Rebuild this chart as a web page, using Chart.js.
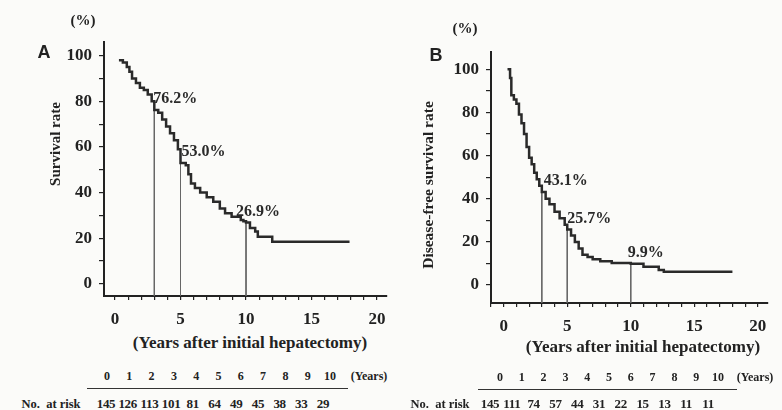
<!DOCTYPE html>
<html>
<head>
<meta charset="utf-8">
<script src="https://cdn.jsdelivr.net/npm/chart.js@4.4.0/dist/chart.umd.min.js"></script>
<style>
  body { margin: 0; background: #fbfbf9; }
  #wrap { position: relative; width: 782px; height: 410px; overflow: hidden;
          font-family: "Liberation Serif", "DejaVu Serif", serif; font-weight: bold; color: #222; }
  canvas { position: absolute; top: 0; }
  .t { position: absolute; white-space: nowrap; transform: translate(-50%, -50%); }
  .rot { transform: translate(-50%, -50%) rotate(-90deg); }
  .rule { position: absolute; height: 0; border-top: 1.5px solid #333; }
</style>
</head>
<body>
<div id="wrap">
  <canvas id="chartA" width="400" height="330" style="left:0"></canvas>
  <canvas id="chartB" width="382" height="340" style="left:400px"></canvas>

  <div class="t" style="left:83px;top:20px;font-size:15px">(%)</div>
  <div class="t" style="left:44px;top:52px;font:bold 18px 'Liberation Sans',sans-serif">A</div>
  <div class="t rot" style="left:55px;top:144px;font-size:15px">Survival rate</div>
  <div class="t" style="left:250px;top:343px;font-size:17px">(Years after initial hepatectomy)</div>

  <div class="t" style="left:465px;top:28px;font-size:15px">(%)</div>
  <div class="t" style="left:436px;top:55px;font:bold 18px 'Liberation Sans',sans-serif">B</div>
  <div class="t rot" style="left:428px;top:185px;font-size:15.5px">Disease-free survival rate</div>
  <div class="t" style="left:643px;top:347px;font-size:17px">(Years after initial hepatectomy)</div>

  <div id="riskA"></div>
  <div id="riskB"></div>
</div>

<script>
// Kaplan-Meier curves (years, percent)
const yearsA = [0.3, 0.6, 0.9, 1.1, 1.3, 1.6, 1.9, 2.2, 2.5, 2.8, 3.0, 3.3, 3.6, 3.9, 4.2, 4.5, 4.8, 5.0, 5.4, 5.6, 5.8, 6.1, 6.5, 7.0, 7.5, 8.0, 8.4, 8.9, 9.6, 9.8, 10.0, 10.3, 10.7, 10.9, 12.0, 17.9];
const survA  = [98, 97, 95, 93, 90, 88, 86, 85, 83, 80, 76.2, 75, 72, 69, 66, 63, 59, 53.0, 52, 48, 44, 42, 40, 38, 36, 33, 31, 29.4, 28, 27.5, 26.9, 24.5, 23, 20.7, 18.5, 18.5];

const yearsB = [0.3, 0.5, 0.6, 0.8, 1.0, 1.2, 1.4, 1.6, 1.8, 2.0, 2.2, 2.4, 2.6, 2.8, 3.0, 3.3, 3.6, 4.0, 4.4, 4.8, 5.0, 5.3, 5.6, 5.9, 6.2, 6.6, 7.0, 7.6, 8.5, 10.0, 11.0, 12.2, 12.6, 18.0];
const dfsB   = [100, 96, 88, 86, 84, 79, 75, 70, 64, 59, 56, 52, 49, 46, 43.1, 40, 37.5, 34, 31, 28, 25.7, 23, 20, 17, 14, 13, 12, 11, 10.2, 9.9, 8.5, 7, 6.2, 6.2];

// marked time points and their rates
const markYears = [3, 5, 10];
const markA = [76.2, 53.0, 26.9];
const markB = [43.1, 25.7, 9.9];

// axis tick labels
const xTickLabels = [0, 5, 10, 15, 20];
const yTickLabels = [0, 20, 40, 60, 80, 100];

// number at risk table
const riskYears = [0, 1, 2, 3, 4, 5, 6, 7, 8, 9, 10];
const riskA = [145, 126, 113, 101, 81, 64, 49, 45, 38, 33, 29];
const riskB = [145, 111, 74, 57, 44, 31, 22, 15, 13, 11, 11];

const ink = '#2a2a2a';
const tickFont = { family: '"Liberation Serif", "DejaVu Serif", serif', size: 17, weight: 'bold' };

// draws "76.2%" etc next to the marked points
const markLabels = {
  id: 'markLabels',
  afterDatasetsDraw(chart, args, opts) {
    const { ctx, scales: { x, y } } = chart;
    ctx.save();
    ctx.font = 'bold 16px "Liberation Serif", serif';
    ctx.fillStyle = ink;
    ctx.textBaseline = 'middle';
    opts.vals.forEach((v, i) => {
      ctx.fillText(v.toFixed(1) + '%', x.getPixelForValue(markYears[i]) + opts.dx[i], y.getPixelForValue(v) - 11);
    });
    ctx.restore();
  }
};

function makeChart(id, years, rates, marks, g) {
  const curve = years.map((yr, i) => ({ x: yr, y: rates[i] }));
  const drops = marks.map((v, i) => ({
    type: 'line',
    data: [{ x: markYears[i], y: v }, { x: markYears[i], y: g.yMin }],
    borderColor: '#666',
    borderWidth: 1,
    pointRadius: 0
  }));

  return new Chart(document.getElementById(id), {
    type: 'line',
    data: {
      datasets: [{
        data: curve,
        borderColor: ink,
        borderWidth: 2.5,
        stepped: true,
        pointRadius: 0
      }, ...drops]
    },
    options: {
      responsive: false,
      animation: false,
      layout: { padding: { top: g.top, right: g.right } },
      plugins: {
        legend: { display: false },
        tooltip: { enabled: false },
        markLabels: { vals: marks, dx: g.dx }
      },
      scales: {
        x: {
          type: 'linear',
          min: g.xMin, max: g.xMax,
          border: { color: '#222', width: 2 },
          grid: { drawOnChartArea: false, tickLength: 4, color: '#222', lineWidth: 1.2 },
          ticks: {
            stepSize: 1, includeBounds: false, autoSkip: false, maxRotation: 0,
            padding: 9, color: '#222', font: tickFont,
            callback: v => xTickLabels.includes(v) ? v : ''
          },
          afterFit: s => { s.height = g.xh; }
        },
        y: {
          min: g.yMin, max: g.yMax,
          border: { color: '#222', width: 2 },
          grid: { drawOnChartArea: false, tickLength: 5, color: '#222', lineWidth: 1.2 },
          ticks: {
            stepSize: 10, includeBounds: false, autoSkip: false,
            padding: 7, color: '#222', font: tickFont,
            callback: v => yTickLabels.includes(v) ? v : ''
          },
          afterFit: s => { s.width = g.yw; }
        }
      }
    },
    plugins: [markLabels]
  });
}

makeChart('chartA', yearsA, survA, markA,
  { xMin: -0.84, xMax: 20.76, yMin: -5.3, yMax: 106, top: 42, right: 13, xh: 34, yw: 104, dx: [-1, 1, -10] });
makeChart('chartB', yearsB, dfsB, markB,
  { xMin: -1, xMax: 20.8, yMin: -8.3, yMax: 108, top: 52, right: 14, xh: 37, yw: 91, dx: [2, 0, -3] });

// number-at-risk tables under each panel
function riskTable(el, counts, t) {
  let html = '';
  riskYears.forEach((yr, i) => {
    html += `<div class="t" style="left:${t.h0 + i * t.hs}px;top:${t.head}px;font-size:12px">${yr}</div>`;
    html += `<div class="t" style="left:${t.c0 + i * t.cs}px;top:${t.row}px;font-size:13px;letter-spacing:-0.3px">${counts[i]}</div>`;
  });
  html += `<div class="t" style="left:${t.yrs}px;top:${t.head}px;font-size:12px">(Years)</div>`;
  html += `<div class="t" style="left:${t.lbl}px;top:${t.row}px;font-size:12.5px">No.&nbsp; at risk</div>`;
  html += `<div class="rule" style="left:${t.r0}px;width:${t.r1 - t.r0}px;top:${t.line}px"></div>`;
  el.innerHTML = html;
}
riskTable(document.getElementById('riskA'), riskA,
  { h0: 107, hs: 22.3, c0: 106, cs: 21.7, head: 376, row: 404, line: 388, yrs: 369, lbl: 51, r0: 87, r1: 348 });
riskTable(document.getElementById('riskB'), riskB,
  { h0: 500, hs: 21.8, c0: 490, cs: 21.8, head: 377, row: 404, line: 389, yrs: 755, lbl: 440, r0: 478, r1: 737 });
</script>
</body>
</html>
